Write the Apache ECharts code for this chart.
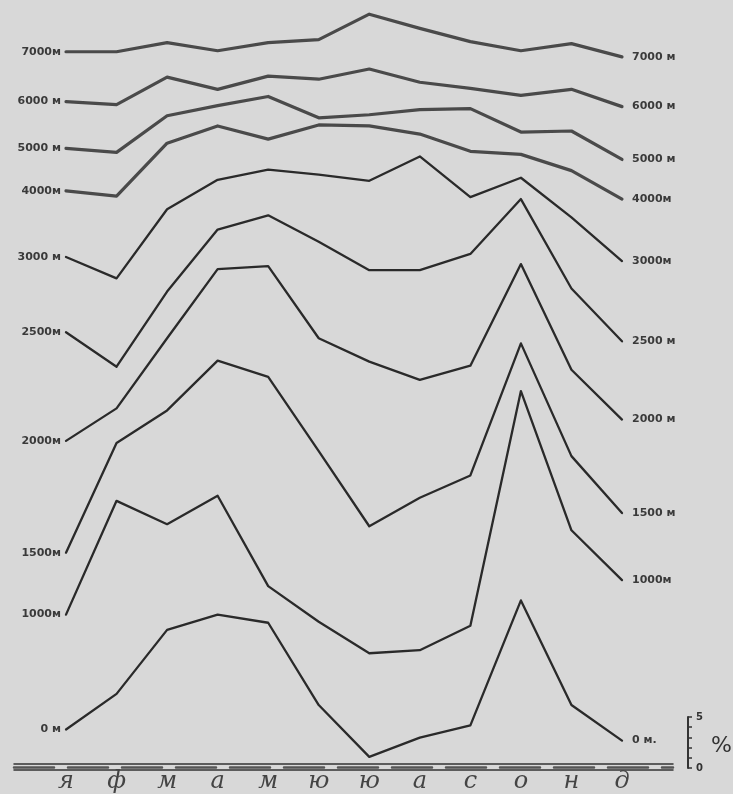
<!DOCTYPE html>
<html>
<head>
<meta charset="utf-8">
<script src="https://cdn.jsdelivr.net/npm/echarts@6/dist/echarts.min.js"></script>
<style>
html,body{margin:0;padding:0;background:#d8d8d8;}
#chart{width:733px;height:794px;}
</style>
</head>
<body>
<div id="chart"></div>
<script>
// Months (Russian initials, Jan..Dec)
const months = ['я','ф','м','а','м','ю','ю','а','с','о','н','д'];

// Plotted heights of each altitude curve above the base line, in % units (scale bar: 0–5 %)
const h7000 = [70.2, 70.2, 71.1, 70.3, 71.1, 71.4, 73.9, 72.5, 71.2, 70.3, 71.0, 69.7];
const h6000 = [65.3, 65.0, 67.7, 66.5, 67.8, 67.5, 68.5, 67.2, 66.6, 65.9, 66.5, 64.8];
const h5000 = [60.7, 60.3, 63.9, 64.9, 65.8, 63.7, 64.0, 64.5, 64.6, 62.3, 62.4, 59.6];
const h4000 = [56.5, 56.0, 61.2, 62.9, 61.6, 63.0, 62.9, 62.1, 60.4, 60.1, 58.5, 55.7];
const h3000 = [50.0, 47.9, 54.7, 57.6, 58.6, 58.1, 57.5, 59.9, 55.9, 57.8, 53.9, 49.6];
const h2500 = [42.6, 39.2, 46.6, 52.7, 54.1, 51.5, 48.7, 48.7, 50.3, 55.7, 46.9, 41.7];
const h2000 = [31.9, 35.1, 42.0, 48.8, 49.1, 42.0, 39.7, 37.9, 39.3, 49.3, 38.9, 34.0];
const h1500 = [20.9, 31.7, 34.9, 39.8, 38.2, 30.9, 23.5, 26.3, 28.5, 41.5, 30.4, 24.8];
const h1000 = [14.8, 26.0, 23.7, 26.5, 17.6, 14.1, 11.0, 11.3, 13.7, 36.8, 23.1, 18.2];
const h0    = [3.5, 7.0, 13.3, 14.8, 14.0, 5.9, 0.8, 2.7, 3.9, 16.2, 5.9, 2.4];

const leftLabels  = ['7000м', '6000 м', '5000 м', '4000м', '3000 м', '2500м', '2000м', '1500м', '1000м', '0 м'];
const rightLabels = ['7000 м', '6000 м', '5000 м', '4000м', '3000м', '2500 м', '2000 м', '1500 м', '1000м', '0 м.'];
const scaleLabels = [0, 5];

const curves = [h7000, h6000, h5000, h4000, h3000, h2500, h2000, h1500, h1000, h0];

const labelFont = {fontFamily: 'DejaVu Sans', fontWeight: 'bold', fontSize: 11, color: '#3a3a3a'};

const series = curves.map((arr, k) => {
  const upper = k < 4;
  return {
    type: 'line',
    xAxisIndex: 0, yAxisIndex: 0,
    symbol: 'circle', symbolSize: 0, showSymbol: true,
    silent: true,
    lineStyle: {color: upper ? '#4a4a4a' : '#2a2a2a', width: upper ? 3.2 : 2.3, join: 'round', cap: 'round'},
    itemStyle: {color: upper ? '#4a4a4a' : '#2a2a2a'},
    data: arr.map((v, i) => i === 0
      ? {value: v, label: Object.assign({show: true, position: 'left', distance: 5, formatter: leftLabels[k]}, labelFont)}
      : v),
    label: {show: false},
    endLabel: Object.assign({show: true, distance: 10, formatter: rightLabels[k]}, labelFont),
    z: 3
  };
});

const chart = echarts.init(document.getElementById('chart'), null, {renderer: 'canvas'});
chart.setOption({
  backgroundColor: '#d8d8d8',
  animation: false,
  title: {
    text: '%', left: 706, top: 730,
    textStyle: {fontFamily: 'DejaVu Sans', fontSize: 22, fontWeight: 'normal', color: '#333'}
  },
  grid: [
    {left: 66, right: 111, top: 3, bottom: 26},
    {left: 14, right: 60, top: 3, bottom: 30},
    {left: 688, width: 20, top: 717, bottom: 26}
  ],
  xAxis: [
    {
      type: 'category', gridIndex: 0, data: months, boundaryGap: false,
      axisLine: {show: false}, axisTick: {show: false}, splitLine: {show: false},
      axisLabel: {margin: 5, fontFamily: 'DejaVu Serif', fontStyle: 'italic', fontSize: 24, color: '#444', interval: 0}
    },
    {type: 'value', gridIndex: 1, min: 0, max: 1, axisLabel: {show: false}, axisTick: {show: false}, splitLine: {show: false},
     axisLine: {show: true, lineStyle: {color: '#333', width: 1.5}}},
    {type: 'value', gridIndex: 1, min: 0, max: 1, position: 'bottom', offset: 3, axisLabel: {show: false}, axisTick: {show: false}, splitLine: {show: false},
     axisLine: {show: true, lineStyle: {color: '#555', width: 2.5, type: [40, 14]}}},
    {type: 'value', gridIndex: 1, min: 0, max: 1, position: 'bottom', offset: 6, axisLabel: {show: false}, axisTick: {show: false}, splitLine: {show: false},
     axisLine: {show: true, lineStyle: {color: '#333', width: 1.5}}},
    {type: 'value', gridIndex: 2, min: 0, max: 1, show: false}
  ],
  yAxis: [
    {type: 'value', gridIndex: 0, min: 0, max: 75, show: false},
    {type: 'value', gridIndex: 1, min: 0, max: 1, show: false},
    {
      type: 'value', gridIndex: 2, min: 0, max: 5, interval: 1, position: 'left',
      axisLine: {show: true, lineStyle: {color: '#333', width: 2}},
      axisTick: {show: true, inside: true, length: 4, lineStyle: {color: '#333', width: 1.5}},
      splitLine: {show: false},
      axisLabel: {show: true, inside: true, margin: 8, fontFamily: 'DejaVu Sans', fontWeight: 'bold', fontSize: 10, color: '#333',
        formatter: v => scaleLabels.indexOf(v) >= 0 ? String(v) : ''}
    }
  ],
  series: series
});
</script>
</body>
</html>
